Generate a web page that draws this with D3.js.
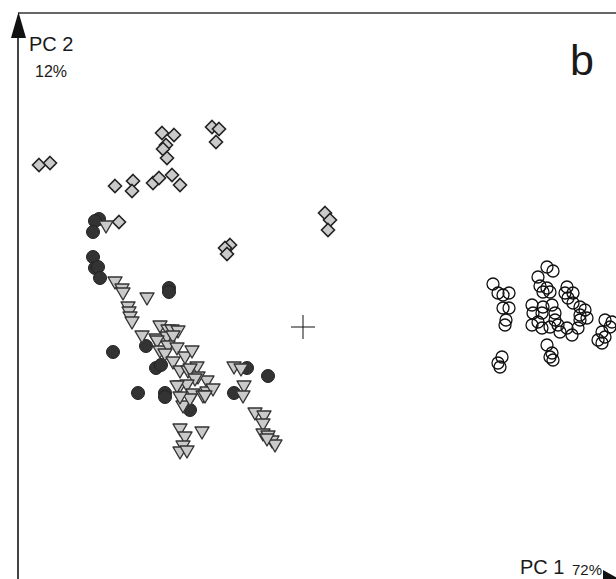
<!DOCTYPE html>
<html>
<head>
<meta charset="utf-8">
<script src="https://cdn.jsdelivr.net/npm/d3@7"></script>
<style>
  body { margin: 0; background: #fff; }
  svg { display: block; }
  text { font-family: "Liberation Sans", Arial, sans-serif; fill: #1a1a1a; }
</style>
</head>
<body>
<svg id="chart" width="616" height="579"></svg>
<script>
// PCA scores [PC1, PC2]
const diamonds = [
  [-2.64, 1.62], [-2.53, 1.64], [-1.88, 1.41], [-1.70, 1.46], [-1.71, 1.36],
  [-1.50, 1.44], [-1.44, 1.49], [-1.31, 1.52], [-1.23, 1.42], [-1.41, 1.94],
  [-1.29, 1.92], [-1.37, 1.82], [-1.40, 1.78], [-1.36, 1.69], [-1.84, 1.05],
  [-0.91, 2.00], [-0.84, 1.98], [-0.87, 1.85], [0.22, 1.14], [0.27, 1.07],
  [0.25, 0.97], [-0.73, 0.82], [-0.78, 0.79], [-0.76, 0.73]
];
const filledCircles = [
  [-2.04, 1.08], [-2.08, 1.06], [-2.10, 0.95], [-2.10, 0.70], [-2.08, 0.59],
  [-2.05, 0.60], [-2.03, 0.49], [-1.34, 0.39], [-1.34, 0.35], [-1.90, -0.25],
  [-1.57, -0.19], [-1.47, -0.41], [-1.42, -0.38], [-1.65, -0.66], [-1.38, -0.66],
  [-1.38, -0.70], [-1.13, -0.83], [-0.56, -0.41], [-0.35, -0.49], [-0.69, -0.66]
];
const triangles = [
  [-1.97, 1.00], [-1.88, 0.44], [-1.81, 0.37], [-1.80, 0.33], [-1.56, 0.28],
  [-1.75, 0.19], [-1.74, 0.14], [-1.73, 0.09], [-1.71, 0.04], [-1.61, -0.10],
  [-1.43, 0.00], [-1.35, -0.04], [-1.31, -0.04], [-1.25, -0.05], [-1.47, -0.13],
  [-1.36, -0.11], [-1.30, -0.10], [-1.46, -0.15], [-1.43, -0.25], [-1.35, -0.20],
  [-1.26, -0.22], [-1.38, -0.28], [-1.18, -0.31], [-1.11, -0.25], [-1.30, -0.36],
  [-1.23, -0.45], [-1.15, -0.45], [-1.06, -0.41], [-0.96, -0.55], [-1.05, -0.51],
  [-1.13, -0.43], [-1.08, -0.53], [-1.23, -0.60], [-1.16, -0.59], [-1.10, -0.68],
  [-0.96, -0.66], [-0.90, -0.63], [-1.20, -0.80], [-1.13, -0.73], [-1.00, -0.70],
  [-1.26, -0.60], [-1.23, -0.71], [-0.98, -0.70], [-0.69, -0.41], [-0.62, -0.43],
  [-0.59, -0.60], [-0.60, -0.70], [-0.48, -0.87], [-0.39, -0.90], [-0.40, -0.98],
  [-0.40, -1.08], [-0.35, -1.10], [-0.31, -1.15], [-0.28, -1.19], [-0.36, -1.13],
  [-1.23, -1.03], [-1.01, -1.06], [-1.18, -1.11], [-1.20, -1.20], [-1.23, -1.26],
  [-1.16, -1.25]
];
const openCircles = [
  [1.90, 0.43], [1.95, 0.34], [2.00, 0.32], [2.06, 0.34], [2.00, 0.19],
  [2.06, 0.19], [2.03, 0.07], [2.02, 0.02], [2.44, 0.60], [2.50, 0.56],
  [2.35, 0.50], [2.37, 0.41], [2.44, 0.39], [2.47, 0.35], [2.40, 0.35],
  [2.29, 0.22], [2.30, 0.14], [2.29, 0.02], [2.39, 0.14], [2.40, 0.20],
  [2.49, 0.22], [2.52, 0.14], [2.52, 0.07], [2.55, 0.02], [2.57, -0.05],
  [2.47, 0.00], [2.39, -0.01], [2.35, 0.05], [2.64, -0.01], [2.69, -0.08],
  [2.64, 0.40], [2.62, 0.34], [2.70, 0.34], [2.65, 0.29], [2.70, 0.24],
  [2.77, 0.20], [2.82, 0.17], [2.77, 0.12], [2.84, 0.09], [2.77, 0.07],
  [2.75, -0.01], [3.02, 0.07], [3.07, 0.00], [3.09, 0.05], [2.99, -0.05],
  [3.02, -0.10], [2.95, -0.13], [2.99, -0.16], [2.44, -0.18], [2.49, -0.26],
  [2.47, -0.30], [2.50, -0.33], [1.99, -0.30], [1.95, -0.36], [1.97, -0.40]
];
const centroid = [0, 0];
const axisLabels = { x: "PC 1", xPct: "72%", y: "PC 2", yPct: "12%" };
const panelLabel = "b";

const svg = d3.select("#chart");
const x = d3.scaleLinear().domain([-2.85, 3.13]).range([18, 616]);
const y = d3.scaleLinear().domain([-2.52, 3.14]).range([579, 13]);

// frame: top line and y axis with arrow
svg.append("line").attr("x1", 18).attr("x2", 616).attr("y1", 13).attr("y2", 13)
  .attr("stroke", "#333").attr("stroke-width", 1.5);
svg.append("line").attr("x1", 18).attr("x2", 18).attr("y1", 20).attr("y2", 579)
  .attr("stroke", "#444").attr("stroke-width", 2);
svg.append("path").attr("d", "M11,38 L26,38 L18.5,12 Z").attr("fill", "#111");
// x axis arrow, mostly outside the picture
svg.append("path").attr("d", "M603,570 L628,584 L603,598 Z").attr("fill", "#111");

// centroid cross
const cx = x(centroid[0]), cy = y(centroid[1]);
svg.append("path")
  .attr("d", `M${cx - 12},${cy} H${cx + 12} M${cx},${cy - 12} V${cy + 12}`)
  .attr("stroke", "#111").attr("stroke-width", 1);

// diamonds
svg.append("g").selectAll("path").data(diamonds).enter().append("path")
  .attr("d", d => {
    const px = x(d[0]), py = y(d[1]), r = 6.5;
    return `M${px},${py - r} L${px + r},${py} L${px},${py + r} L${px - r},${py} Z`;
  })
  .attr("fill", "#cacaca").attr("stroke", "#222").attr("stroke-width", 1.6);

// filled circles
svg.append("g").selectAll("circle").data(filledCircles).enter().append("circle")
  .attr("cx", d => x(d[0])).attr("cy", d => y(d[1])).attr("r", 6.5)
  .attr("fill", "#333").attr("stroke", "#222").attr("stroke-width", 1);

// down triangles
svg.append("g").selectAll("path").data(triangles).enter().append("path")
  .attr("d", d => {
    const px = x(d[0]), py = y(d[1]);
    return `M${px - 7},${py - 6} L${px + 7},${py - 6} L${px},${py + 6} Z`;
  })
  .attr("fill", "#cacaca").attr("stroke", "#333").attr("stroke-width", 1.4)
  .attr("stroke-linejoin", "round");

// open circles
svg.append("g").selectAll("circle").data(openCircles).enter().append("circle")
  .attr("cx", d => x(d[0])).attr("cy", d => y(d[1])).attr("r", 6)
  .attr("fill", "none").attr("stroke", "#111").attr("stroke-width", 1.3);

// labels
svg.append("text").attr("x", 29).attr("y", 51).attr("font-size", 20).text(axisLabels.y);
svg.append("text").attr("x", 35).attr("y", 77).attr("font-size", 16).text(axisLabels.yPct);
svg.append("text").attr("x", 570).attr("y", 75).attr("font-size", 43).text(panelLabel);
svg.append("text").attr("x", 520).attr("y", 574).attr("font-size", 20).text(axisLabels.x);
svg.append("text").attr("x", 572).attr("y", 575).attr("font-size", 15).text(axisLabels.xPct);
</script>
</body>
</html>
